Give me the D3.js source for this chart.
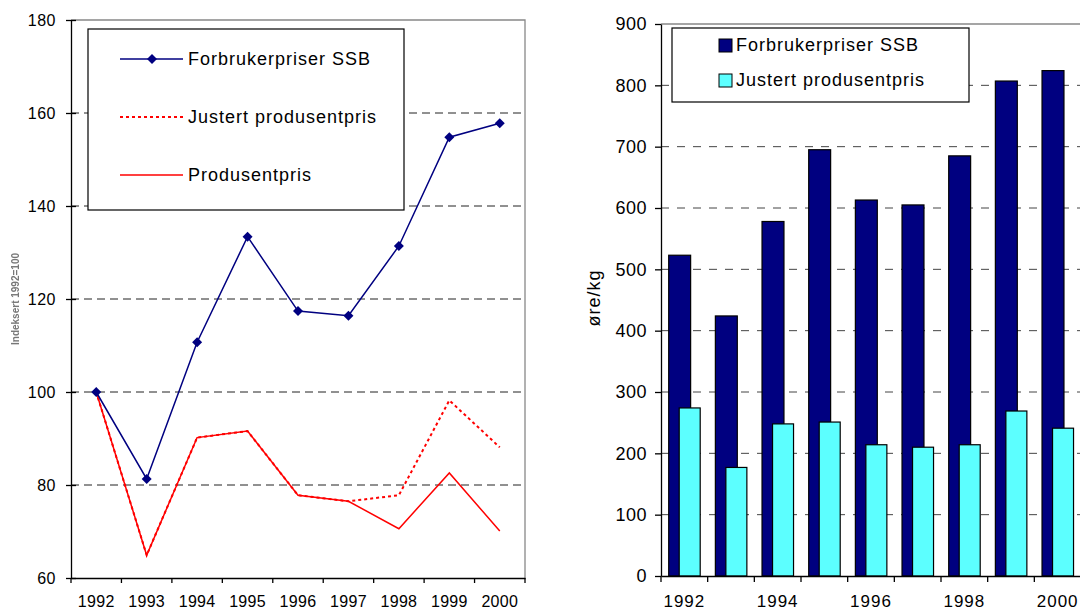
<!DOCTYPE html>
<html>
  <head>
    <meta charset="UTF-8">
    <title>Forbrukerpriser og produsentpris</title>
    <style>
      body { margin: 0; background: #fff; }
      svg text { font-family: "Liberation Sans", Arial, sans-serif; fill: #000; }
      .axis path, .axis line { stroke: #000; stroke-width: 1.3; }
      .grid line { stroke: #222; stroke-dasharray: 8,5; }
    </style>
  </head>
  <body>
<svg width="1080" height="611">
  <defs>
    <filter id="blur"><feGaussianBlur stdDeviation="0.7"/></filter>
  </defs>
</svg>
<script src="https://d3js.org/d3.v7.min.js"></script>
<script>

var years = ["1992", "1993", "1994", "1995", "1996", "1997", "1998", "1999", "2000"];

// venstre figur, indeks 1992 = 100
var forbrukerIndeks = [100, 81.3, 110.7, 133.4, 117.4, 116.4, 131.4, 154.8, 157.8];
var justertIndeks = [100, 64.9, 90.2, 91.6, 77.8, 76.5, 77.8, 98.2, 88.1];
var produsentIndeks = [100, 64.9, 90.2, 91.6, 77.8, 76.5, 70.6, 82.6, 70.1];
var leftTicks = [60, 80, 100, 120, 140, 160, 180];

// høyre figur, øre/kg
var forbrukerOre = [523, 424, 578, 695, 613, 605, 685, 807, 824];
var justertOre = [274, 177, 248, 251, 214, 210, 214, 269, 241];
var rightTicks = [0, 100, 200, 300, 400, 500, 600, 700, 800, 900];
var rightLabels = ["1992", "1994", "1996", "1998", "2000"];

var svg = d3.select("svg");

// ---------- line chart ----------
var L = {left: 71, right: 525, top: 20, bottom: 578};

var x1 = d3.scaleBand().domain(years).range([L.left, L.right]);
var y1 = d3.scaleLinear().domain([60, 180]).range([L.bottom, L.top]);

var g1 = svg.append("g");

// plot area frame (top + right)
g1.append("path")
    .attr("d", "M" + L.left + "," + L.top + "H" + L.right + "V" + L.bottom)
    .attr("fill", "none").attr("stroke", "#888").attr("stroke-width", 1.3);

g1.append("g").attr("class", "grid")
  .selectAll("line").data(leftTicks.filter(function(d) { return d > 60 && d < 180; }))
  .enter().append("line")
    .attr("x1", L.left).attr("x2", L.right)
    .attr("y1", function(d) { return y1(d); })
    .attr("y2", function(d) { return y1(d); });

g1.append("g").attr("class", "axis")
    .attr("transform", "translate(" + L.left + ",0)")
    .call(d3.axisLeft(y1).tickValues(leftTicks).tickSize(5).tickPadding(10).tickSizeOuter(0))
    .call(function(a) {
      a.selectAll(".tick line").attr("x1", 5).attr("x2", -5);
      a.selectAll("text").style("font-size", "16px").style("letter-spacing", "0.5px");
    });

var xAxis1 = d3.axisBottom(x1).tickSize(0).tickPadding(18).tickSizeOuter(0);
g1.append("g").attr("class", "axis")
    .attr("transform", "translate(0," + L.bottom + ")")
    .call(xAxis1)
    .call(function(a) { a.selectAll("text").style("font-size", "16px").style("letter-spacing", "0.3px"); });

// x tick marks on band edges
g1.append("g").selectAll("line")
  .data(years.concat(["end"]))
  .enter().append("line")
    .attr("x1", function(d) { return d == "end" ? L.right : x1(d); })
    .attr("x2", function(d) { return d == "end" ? L.right : x1(d); })
    .attr("y1", L.bottom).attr("y2", L.bottom + 5)
    .attr("stroke", "#000").attr("stroke-width", 1.3);

// blurry y label
g1.append("text")
    .attr("transform", "translate(19,299) rotate(-90)")
    .attr("text-anchor", "middle")
    .attr("filter", "url(#blur)")
    .style("font-size", "10px")
    .style("font-weight", "bold")
    .style("fill", "#777")
    .text("Indeksert 1992=100");

var line = d3.line()
    .x(function(d, i) { return x1(years[i]) + x1.bandwidth() / 2; })
    .y(function(d) { return y1(d); });

// legend box
var leg1 = g1.append("g");
leg1.append("rect")
    .attr("x", 88).attr("y", 29).attr("width", 316).attr("height", 181)
    .attr("fill", "#fff").attr("stroke", "#000").attr("stroke-width", 1.2);

g1.append("path").datum(justertIndeks)
    .attr("d", line).attr("fill", "none")
    .attr("stroke", "#ff0000").attr("stroke-width", 2).attr("stroke-dasharray", "3,3");

g1.append("path").datum(produsentIndeks)
    .attr("d", line).attr("fill", "none")
    .attr("stroke", "#ff0000").attr("stroke-width", 1.5);

g1.append("path").datum(forbrukerIndeks)
    .attr("d", line).attr("fill", "none")
    .attr("stroke", "#000080").attr("stroke-width", 1.5);

var diamond = d3.symbol().type(d3.symbolSquare).size(50);
g1.selectAll(".pt").data(forbrukerIndeks)
  .enter().append("path")
    .attr("class", "pt")
    .attr("d", diamond)
    .attr("fill", "#000080")
    .attr("transform", function(d, i) {
      return "translate(" + (x1(years[i]) + x1.bandwidth() / 2) + "," + y1(d) + ") rotate(45)";
    });

var legItems = [
  {name: "Forbrukerpriser SSB", color: "#000080", dash: null, marker: true},
  {name: "Justert produsentpris", color: "#ff0000", dash: "3,3", marker: false},
  {name: "Produsentpris", color: "#ff0000", dash: null, marker: false}
];
legItems.forEach(function(d, i) {
  var yy = 59 + i * 58;
  leg1.append("line")
      .attr("x1", 120).attr("x2", 183).attr("y1", yy).attr("y2", yy)
      .attr("stroke", d.color).attr("stroke-width", d.dash ? 2 : 1.5)
      .attr("stroke-dasharray", d.dash);
  if (d.marker) {
    leg1.append("path").attr("d", diamond).attr("fill", d.color)
        .attr("transform", "translate(152," + yy + ") rotate(45)");
  }
  leg1.append("text")
      .attr("x", 188).attr("y", yy).attr("dy", "0.35em")
      .style("font-size", "18px")
      .style("letter-spacing", "1px")
      .text(d.name);
});

// ---------- bar chart ----------
var R = {left: 661, right: 1081, top: 24, bottom: 576};

var x2 = d3.scaleBand().domain(years).range([R.left, R.right]);
var y2 = d3.scaleLinear().domain([0, 900]).range([R.bottom, R.top]);

var g2 = svg.append("g");

g2.append("path")
    .attr("d", "M" + R.left + "," + R.top + "H" + R.right + "V" + R.bottom)
    .attr("fill", "none").attr("stroke", "#888").attr("stroke-width", 1.3);

g2.append("g").attr("class", "grid")
  .selectAll("line").data(rightTicks.filter(function(d) { return d > 0 && d < 900; }))
  .enter().append("line")
    .attr("x1", R.left).attr("x2", R.right)
    .attr("y1", function(d) { return y2(d); })
    .attr("y2", function(d) { return y2(d); })
    .style("stroke", "#444").style("stroke-dasharray", "8,8");

var bw = x2.bandwidth();

g2.selectAll(".bar1").data(forbrukerOre)
  .enter().append("rect")
    .attr("class", "bar1")
    .attr("x", function(d, i) { return x2(years[i]) + bw * 0.165; })
    .attr("y", function(d) { return y2(d); })
    .attr("width", bw * 0.47)
    .attr("height", function(d) { return y2(0) - y2(d); })
    .attr("fill", "#000080").attr("stroke", "#000").attr("stroke-width", 1.2);

g2.selectAll(".bar2").data(justertOre)
  .enter().append("rect")
    .attr("class", "bar2")
    .attr("x", function(d, i) { return x2(years[i]) + bw * 0.39; })
    .attr("y", function(d) { return y2(d); })
    .attr("width", bw * 0.45)
    .attr("height", function(d) { return y2(0) - y2(d); })
    .attr("fill", "#5cffff").attr("stroke", "#000").attr("stroke-width", 1.2);

g2.append("g").attr("class", "axis")
    .attr("transform", "translate(" + R.left + ",0)")
    .call(d3.axisLeft(y2).tickValues(rightTicks).tickSize(6).tickPadding(8).tickSizeOuter(0))
    .call(function(a) { a.selectAll("text").style("font-size", "18px").style("letter-spacing", "0.5px"); });

g2.append("g").attr("class", "axis")
    .attr("transform", "translate(0," + R.bottom + ")")
    .call(d3.axisBottom(x2).tickSize(0).tickPadding(19).tickSizeOuter(0)
      .tickFormat(function(d) { return rightLabels.indexOf(d) >= 0 ? d : ""; }))
    .call(function(a) { a.selectAll("text").style("font-size", "17px").style("letter-spacing", "1px"); });

g2.append("g").selectAll("line")
  .data(years)
  .enter().append("line")
    .attr("x1", function(d) { return x2(d); })
    .attr("x2", function(d) { return x2(d); })
    .attr("y1", R.bottom).attr("y2", R.bottom + 6)
    .attr("stroke", "#000").attr("stroke-width", 1.3);

g2.append("text")
    .attr("transform", "translate(600,298) rotate(-90)")
    .attr("text-anchor", "middle")
    .style("font-size", "18px")
    .style("letter-spacing", "1px")
    .text("øre/kg");

var leg2 = g2.append("g");
leg2.append("rect")
    .attr("x", 672).attr("y", 28).attr("width", 297).attr("height", 74)
    .attr("fill", "#fff").attr("stroke", "#000").attr("stroke-width", 1.2);

[{name: "Forbrukerpriser SSB", color: "#000080"},
 {name: "Justert produsentpris", color: "#5cffff"}].forEach(function(d, i) {
  var yy = 45 + i * 35;
  leg2.append("rect")
      .attr("x", 719).attr("y", yy - 6).attr("width", 13).attr("height", 13)
      .attr("fill", d.color).attr("stroke", "#000").attr("stroke-width", 1);
  leg2.append("text")
      .attr("x", 736).attr("y", yy).attr("dy", "0.35em")
      .style("font-size", "18px")
      .style("letter-spacing", "1px")
      .text(d.name);
});

</script>
  </body>
</html>
